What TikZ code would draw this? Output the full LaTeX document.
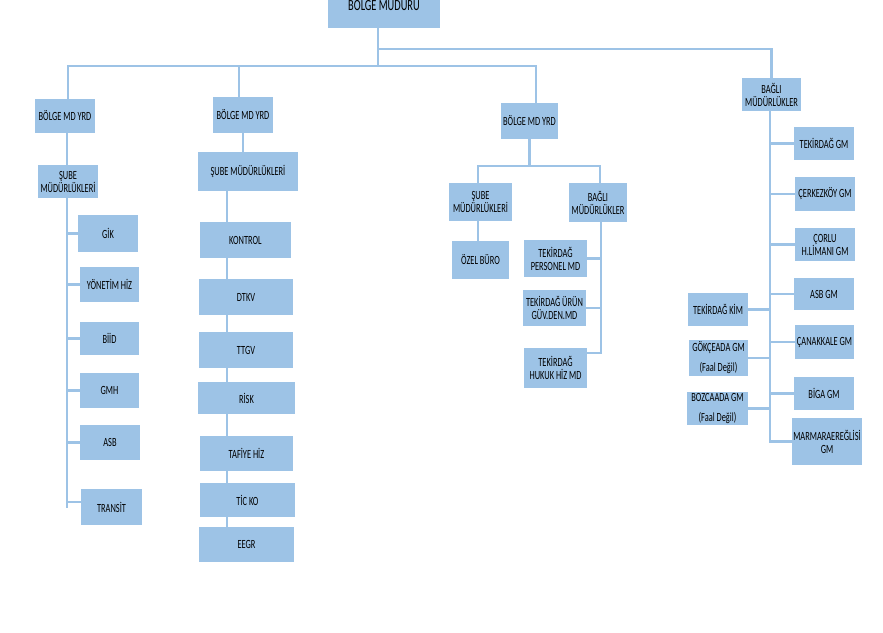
\documentclass[tikz,border=0pt]{standalone}
\usepackage{fontspec}
\setmainfont{Carlito}[FakeStretch=0.67]
\usetikzlibrary{backgrounds}
\definecolor{boxblue}{HTML}{9DC3E6}
\definecolor{lineblue}{HTML}{9DC3E6}
\tikzset{
  bx/.style={fill=boxblue, inner sep=1pt, align=center, font=\fontsize{12.5}{13}\selectfont},
  ln/.style={draw=lineblue, line width=2.2pt}
}
\newcommand\bxn[6]{\node[bx,minimum width=#4,minimum height=#5] (#1) at (#2,#3) {#6};}
\begin{document}
\begin{tikzpicture}[x=1pt,y=-1pt]
\useasboundingbox (0,0) rectangle (883,632);
% top
\node[bx,minimum width=112,minimum height=48,font=\fontsize{15.5}{17}\selectfont] (top) at (384,4) {BÖLGE MÜDÜRÜ};
% level 1
\bxn{yrd1}{65}{116}{60}{34}{BÖLGE MD YRD}
\bxn{yrd2}{243}{115}{60}{36}{BÖLGE MD YRD}
\bxn{yrd3}{529.5}{121}{57}{36}{BÖLGE MD YRD}
\bxn{bagli1}{771.5}{94.5}{59}{33}{BAĞLI\\MÜDÜRLÜKLER}
% column 1
\bxn{sube1}{68}{181.5}{60}{33}{ŞUBE\\MÜDÜRLÜKLERİ}
\bxn{gik}{108}{233.5}{60}{37}{GİK}
\bxn{yon}{109.5}{284.5}{59}{35}{YÖNETİM HİZ}
\bxn{biid}{109.5}{338.5}{59}{33}{BİİD}
\bxn{gmh}{109.5}{390.5}{59}{35}{GMH}
\bxn{asb}{110}{442.5}{60}{35}{ASB}
\bxn{transit}{111.5}{507}{61}{36}{TRANSİT}
% column 2
\bxn{sube2}{248}{171.5}{100}{39}{ŞUBE MÜDÜRLÜKLERİ}
\bxn{kontrol}{245.5}{240}{91}{36}{KONTROL}
\bxn{dtkv}{246}{297}{94}{36}{DTKV}
\bxn{ttgv}{246}{350}{94}{36}{TTGV}
\bxn{risk}{246.5}{398}{97}{32}{RİSK}
\bxn{tafiye}{246.5}{453.5}{93}{35}{TAFİYE HİZ}
\bxn{ticko}{247.5}{500}{95}{34}{TİC KO}
\bxn{eegr}{246.5}{544.5}{95}{35}{EEGR}
% column 3
\bxn{sube3}{480.5}{202}{63}{38}{ŞUBE\\MÜDÜRLÜKLERİ}
\bxn{bagli3}{598}{202.5}{58}{39}{BAĞLI\\MÜDÜRLÜKLER}
\bxn{ozel}{480.5}{260}{57}{38}{ÖZEL BÜRO}
\bxn{pers}{555.5}{258.5}{63}{37}{TEKİRDAĞ\\PERSONEL MD}
\bxn{urun}{554.5}{308}{63}{36}{TEKİRDAĞ ÜRÜN\\GÜV.DEN.MD}
\bxn{hukuk}{555.5}{368}{63}{40}{TEKİRDAĞ\\HUKUK HİZ MD}
% column 4
\bxn{tgm}{824}{143.5}{60}{33}{TEKİRDAĞ GM}
\bxn{cerk}{825}{194}{60}{34}{ÇERKEZKÖY GM}
\bxn{corlu}{825}{244.5}{60}{33}{ÇORLU\\H.LİMANI GM}
\bxn{asbgm}{824}{294}{60}{32}{ASB GM}
\bxn{kim}{718}{309.5}{60}{33}{TEKİRDAĞ KİM}
\bxn{canak}{824.5}{342}{59}{34}{ÇANAKKALE GM}
\bxn{gokce}{718.5}{358}{59}{36}{GÖKÇEADA GM\\[7pt](Faal Değil)}
\bxn{biga}{824}{393.5}{60}{33}{BİGA GM}
\bxn{bozca}{717.5}{408.5}{61}{33}{BOZCAADA GM\\[7pt](Faal Değil)}
\bxn{marm}{827}{441.5}{68}{47}{MARMARAEREĞLİSİ\\GM}
\begin{pgfonlayer}{background}
% top connectors
\coordinate (hl) at (0,66);
\coordinate (hu) at (0,49);
\draw[ln] ([xshift=-6pt]top.south) -- ([xshift=-6pt]top.south |- hl);
\draw[ln] ([xshift=-6pt]top.south |- hu) -| (bagli1.north);
\draw[ln] ([xshift=3pt]yrd1.north) -- ([xshift=3pt]yrd1.north |- hl) -- ([xshift=6.5pt]yrd3.north |- hl) -- ([xshift=6.5pt]yrd3.north);
\draw[ln] ([xshift=-4pt]yrd2.north) -- ([xshift=-4pt]yrd2.north |- hl);
% column 1
\coordinate (lc) at (67,508);
\draw[ln] (yrd1.south -| lc) -- (sube1.north -| lc);
\draw[ln] (sube1.south -| lc) -- (lc);
\foreach \n in {gik,yon,biid,gmh,asb} \draw[ln] (\n.west) -- (\n.west -| lc);
\draw[ln] ([yshift=5pt]transit.west) -- ([yshift=5pt]transit.west -| lc);
% column 2
\draw[ln] (yrd2.south) -- (yrd2.south |- sube2.north);
\coordinate (cc) at (227,0);
\draw[ln] (sube2.south -| cc) -- (eegr.north -| cc);
% column 3
\coordinate (h3) at (0,166);
\draw[ln] (yrd3.south) -- (yrd3.south |- h3);
\draw[ln] ([xshift=-2.5pt]sube3.north) -- ([xshift=-2.5pt]sube3.north |- h3) -- ([xshift=2pt]bagli3.north |- h3) -- ([xshift=2pt]bagli3.north);
\draw[ln] ([xshift=-2.5pt]sube3.south) -- ([xshift=-2.5pt]ozel.north);
\coordinate (c3) at (601,0);
\draw[ln] (bagli3.south -| c3) -- ([yshift=15pt]hukuk.east -| c3) -- ([yshift=15pt]hukuk.east);
\foreach \n in {pers,urun} \draw[ln] (\n.east) -- (\n.east -| c3);
% column 4
\coordinate (c4) at (770,443);
\draw[ln] (bagli1.south -| c4) -- (c4);
\foreach \n in {tgm,cerk,corlu,asbgm,canak,biga,marm} \draw[ln] (\n.west) -- (\n.west -| c4);
\foreach \n in {kim,gokce,bozca} \draw[ln] (\n.east) -- (\n.east -| c4);
\end{pgfonlayer}
\end{tikzpicture}
\end{document}
